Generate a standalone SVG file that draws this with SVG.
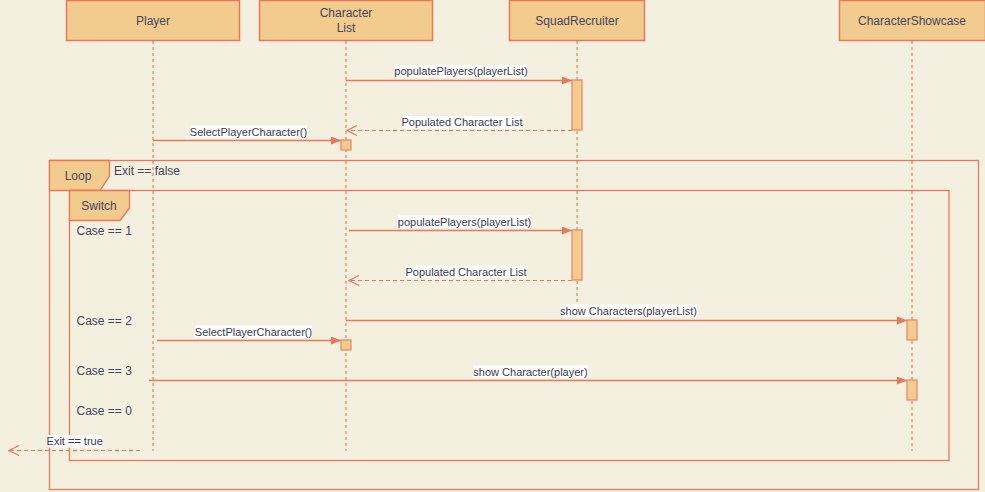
<svg xmlns="http://www.w3.org/2000/svg" width="985" height="492" viewBox="0 0 985 492">
<defs>
<style>
.bg{fill:#F4F0DF}
.hdr{fill:#F2CB8E;stroke:#E9775A;stroke-width:1.5}
.hdrt{font-family:"Liberation Sans",Arial,sans-serif;font-size:12px;fill:#45455F;text-anchor:middle}
.life{stroke:#F0A68B;stroke-width:1.8;stroke-dasharray:3 3;fill:none}
.act{fill:#F2CB8E;stroke:#EC8A6A;stroke-width:1.3}
.frame{fill:none;stroke:#E9775A;stroke-width:1.3}
.tab{fill:#F2CB8E;stroke:#E9775A;stroke-width:1.3}
.ft{font-family:"Liberation Sans",Arial,sans-serif;font-size:12px;fill:#45455F}
.msg{stroke:#E9775A;stroke-width:1.3;fill:none}
.ret{stroke:#E9775A;stroke-width:1.2;fill:none;stroke-dasharray:4 3}
.lbl{font-family:"Liberation Sans",Arial,sans-serif;font-size:11px;fill:#3A3A58;text-anchor:middle}
.lblbg{fill:#FFFFFF}
</style>
<marker id="fill" markerWidth="10" markerHeight="8" refX="10" refY="4" orient="auto" markerUnits="userSpaceOnUse">
<path d="M0,0 L10,4 L0,8 Z" fill="#E9775A"/>
</marker>
<marker id="open" markerWidth="12" markerHeight="12" refX="11" refY="6" orient="auto" markerUnits="userSpaceOnUse">
<path d="M1,1 L11,6 L1,11" fill="none" stroke="#E9775A" stroke-width="1.2"/>
</marker>
</defs>
<rect class="bg" x="0" y="0" width="985" height="492"/>

<g id="lifelines">
<line class="life" x1="153" y1="41" x2="153" y2="451"/>
<line class="life" x1="346" y1="41" x2="346" y2="451"/>
<line class="life" x1="577" y1="41" x2="577" y2="304"/>
<line class="life" x1="912" y1="41" x2="912" y2="451"/>
</g>

<g id="loop-frame">
<rect class="frame" x="49.5" y="160.5" width="929" height="329"/>
<path class="tab" d="M49.5,160.5 L109.5,160.5 L109.5,176 L100,190.5 L49.5,190.5 Z"/>
<text class="ft" x="78" y="180" text-anchor="middle">Loop</text>
<text class="ft" x="114" y="175">Exit == false</text>
</g>

<g id="switch-frame">
<rect class="frame" x="69.5" y="190.5" width="879.5" height="270"/>
<path class="tab" d="M69.5,190.5 L129.5,190.5 L129.5,208 L120,220.5 L69.5,220.5 Z"/>
<text class="ft" x="99" y="210" text-anchor="middle">Switch</text>
<text class="ft" x="76.5" y="235">Case == 1</text>
<text class="ft" x="76.5" y="325">Case == 2</text>
<text class="ft" x="76.5" y="375">Case == 3</text>
<text class="ft" x="76.5" y="415">Case == 0</text>
</g>

<g id="player">
<rect class="hdr" x="66.5" y="0.5" width="173" height="40"/>
<text class="hdrt" x="153" y="25">Player</text>
</g>
<g id="character-list">
<rect class="hdr" x="259.5" y="0.5" width="173" height="40"/>
<text class="hdrt" x="346" y="17">Character</text>
<text class="hdrt" x="346" y="32">List</text>
</g>
<g id="squad-recruiter">
<rect class="hdr" x="509.5" y="0.5" width="135" height="40"/>
<text class="hdrt" x="577" y="25">SquadRecruiter</text>
</g>
<g id="character-showcase">
<rect class="hdr" x="839.5" y="0.5" width="146" height="40"/>
<text class="hdrt" x="912" y="25">CharacterShowcase</text>
</g>

<g id="activations">
<rect class="act" x="572" y="80" width="10" height="50"/>
<rect class="act" x="341" y="140" width="10" height="10"/>
<rect class="act" x="572" y="230" width="10" height="50"/>
<rect class="act" x="907" y="320" width="10" height="20"/>
<rect class="act" x="341" y="340" width="10" height="10"/>
<rect class="act" x="907" y="380" width="10" height="20"/>
</g>

<g id="connectors">
<line class="msg" x1="346" y1="80.5" x2="572" y2="80.5" marker-end="url(#fill)"/>
<rect class="lblbg" x="395" y="65" width="132" height="12.5"/>
<text class="lbl" x="461" y="75">populatePlayers(playerList)</text>

<line class="ret" x1="572" y1="130.5" x2="347" y2="130.5" marker-end="url(#open)"/>
<rect class="lblbg" x="402" y="116" width="120" height="12.5"/>
<text class="lbl" x="462" y="126">Populated Character List</text>

<line class="msg" x1="153" y1="140.5" x2="341" y2="140.5" marker-end="url(#fill)"/>
<rect class="lblbg" x="190" y="125.5" width="117" height="12.5"/>
<text class="lbl" x="248.5" y="135.5">SelectPlayerCharacter()</text>

<line class="msg" x1="349" y1="230.5" x2="572" y2="230.5" marker-end="url(#fill)"/>
<rect class="lblbg" x="398.5" y="215.5" width="132" height="12.5"/>
<text class="lbl" x="464.5" y="225.5">populatePlayers(playerList)</text>

<line class="ret" x1="572" y1="280.5" x2="349" y2="280.5" marker-end="url(#open)"/>
<rect class="lblbg" x="406" y="265.5" width="120" height="12.5"/>
<text class="lbl" x="466" y="275.5">Populated Character List</text>

<line class="msg" x1="346" y1="320.5" x2="907" y2="320.5" marker-end="url(#fill)"/>
<rect class="lblbg" x="560" y="304.5" width="137" height="12.5"/>
<text class="lbl" x="628.5" y="314.5">show Characters(playerList)</text>

<line class="msg" x1="157" y1="340.5" x2="341" y2="340.5" marker-end="url(#fill)"/>
<rect class="lblbg" x="195" y="325.5" width="117" height="12.5"/>
<text class="lbl" x="253.5" y="335.5">SelectPlayerCharacter()</text>

<line class="msg" x1="149" y1="380.5" x2="907" y2="380.5" marker-end="url(#fill)"/>
<rect class="lblbg" x="473" y="365.5" width="115" height="12.5"/>
<text class="lbl" x="530.5" y="375.5">show Character(player)</text>

<line class="ret" x1="140" y1="450.5" x2="9" y2="450.5" marker-end="url(#open)"/>
<rect class="lblbg" x="47.5" y="435" width="54.5" height="12.5"/>
<text class="lbl" x="74.7" y="445">Exit == true</text>
</g>
</svg>
